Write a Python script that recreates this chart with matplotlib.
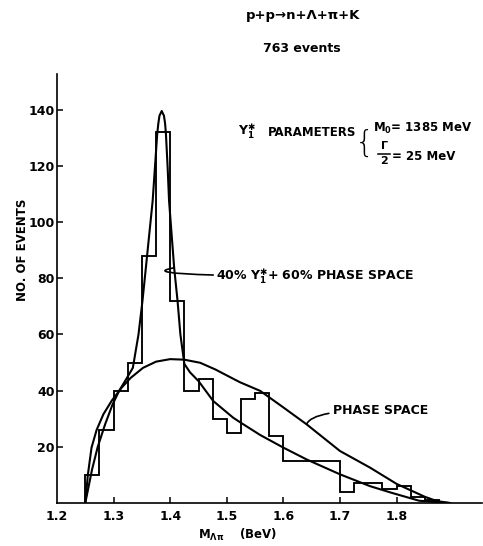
import matplotlib
matplotlib.use("Agg")
import matplotlib.pyplot as plt
from matplotlib.lines import Line2D

# ---------------------------------------------------------------------------
# Data
# ---------------------------------------------------------------------------

# histogram: M(Lambda pi) in BeV, bin width 0.025
bin_edges = [1.250, 1.275, 1.300, 1.325, 1.350, 1.375, 1.400, 1.425, 1.450,
             1.475, 1.500, 1.525, 1.550, 1.575, 1.600, 1.625, 1.650, 1.675,
             1.700, 1.725, 1.750, 1.775, 1.800, 1.825, 1.850, 1.875]
counts = [10, 26, 40, 50, 88, 132, 72, 40, 44, 30, 25, 37, 39, 24,
          15, 15, 15, 15, 4, 7, 7, 5, 6, 2, 1]

# 40% Y1* + 60% phase space curve
res_mass = [1.250, 1.262, 1.272, 1.285, 1.298, 1.310, 1.325, 1.334, 1.344,
            1.351, 1.357, 1.363, 1.369, 1.373, 1.377, 1.379, 1.381, 1.385,
            1.389, 1.391, 1.3925, 1.3955, 1.398, 1.4025, 1.407, 1.413, 1.418,
            1.425, 1.435, 1.450, 1.476, 1.511, 1.523, 1.559, 1.600, 1.641,
            1.700, 1.753, 1.790, 1.840, 1.894]
res_events = [0, 12, 20, 28, 35, 40, 45, 48.1, 60, 71.9, 83.7, 95.6, 107.5,
              119.3, 131.2, 135, 137.8, 139.5, 137.8, 135, 131.2, 119.3,
              107.5, 95.6, 83.7, 71.9, 60, 49.5, 46.5, 43.4, 36.3, 30.4, 28.8,
              24.2, 19.7, 15.5, 10.2, 6.0, 3.7, 0.8, 0]

# pure phase space curve
ps_mass = [1.250, 1.2545, 1.261, 1.270, 1.282, 1.297, 1.314, 1.330, 1.352,
           1.375, 1.400, 1.425, 1.453, 1.480, 1.500, 1.523, 1.559, 1.600,
           1.641, 1.700, 1.753, 1.800, 1.850, 1.871, 1.894]
ps_events = [0, 10, 19.7, 26, 31.6, 36.5, 41, 44.5, 48.1, 50.3, 51.2, 51,
             49.9, 47.5, 45.4, 43, 39.9, 34, 28, 18.5, 12.6, 6.8, 2.2, 0.7, 0]

y_ticks = [20, 40, 60, 80, 100, 120, 140]
x_ticks = [1.2, 1.3, 1.4, 1.5, 1.6, 1.7, 1.8]
x_ticklabels = ["1.2", "1.3", "1.4", "1.5", "1.6", "1.7", "1.8"]

# ---------------------------------------------------------------------------
# Figure
# ---------------------------------------------------------------------------

W, H = 483, 546
plt.rcParams["font.family"] = ["DejaVu Sans"]
plt.rcParams["mathtext.fontset"] = "dejavusans"

fig = plt.figure(figsize=(W / 100, H / 100), dpi=100)
ax = fig.add_axes([57 / W, 1 - 503 / H, (482 - 57) / W, (503 - 74) / H])


def fx(px):
    return px / W


def fy(py):
    return 1 - py / H


LW = 1.5
ax.stairs(counts, bin_edges, color="black", lw=LW * 0.9)
ax.plot(res_mass, res_events, color="black", lw=LW, solid_joinstyle="round")
ax.plot(ps_mass, ps_events, color="black", lw=LW, solid_joinstyle="round")

ax.set_xlim(1.2, 1.2 + (482 - 57) / 566)
ax.set_ylim(0, (503 - 74) / 2.81)

for side in ("top", "right"):
    ax.spines[side].set_visible(False)
for side in ("left", "bottom"):
    ax.spines[side].set_linewidth(1.2)

ax.set_xticks(x_ticks)
ax.set_xticklabels(x_ticklabels)
ax.set_yticks(y_ticks)
ax.tick_params(direction="in", length=4, width=1.1, labelsize=9)
ax.tick_params(axis="x", pad=5)
ax.tick_params(axis="y", pad=1.5)
ax.xaxis.get_major_ticks()[0].tick1line.set_visible(False)
for lab in ax.get_xticklabels() + ax.get_yticklabels():
    lab.set_fontweight("bold")

TXT = dict(fontsize=9, fontweight="bold")
PAR = dict(fontsize=8.5, fontweight="bold")
YSTAR = r"$\mathbf{Y}_{\mathbf{1}}^{✱}$"

# axis labels
fig.text(fx(23), fy(250), "NO. OF EVENTS", rotation=90, ha="center",
         va="center", fontsize=8.5, fontweight="bold")
fig.text(fx(198), fy(535), r"$\mathbf{M_{\Lambda\pi}}$    (BeV)", ha="left",
         va="center", fontsize=8.5, fontweight="bold")

# header
fig.text(fx(303), fy(16), "p+p→n+Λ+π+K", ha="center", va="center",
         fontsize=9.5, fontweight="bold")
fig.text(fx(302), fy(49), "763 events", ha="center", va="center",
         fontsize=9, fontweight="bold")

# Y1* parameters
fig.text(fx(238), fy(131), YSTAR, ha="left", va="center", **TXT)
fig.text(fx(268), fy(133), "PARAMETERS", ha="left", va="center", **PAR)
fig.text(fx(355), fy(143), "{", ha="left", va="center", fontsize=22,
         fontweight="light")
fig.text(fx(373), fy(128), r"$\mathbf{M_0}$= 1385 MeV", ha="left",
         va="center", **PAR)
fig.text(fx(384), fy(146), "Γ", ha="center", va="center", fontsize=8,
         fontweight="bold")
fig.add_artist(Line2D([fx(378), fx(390)], [fy(153.5), fy(153.5)],
                      color="black", lw=1.1))
fig.text(fx(384), fy(161), "2", ha="center", va="center", fontsize=8,
         fontweight="bold")
fig.text(fx(392), fy(156), "= 25 MeV", ha="left", va="center", **PAR)

# curve labels with leader lines
ax.annotate("40% " + YSTAR + "+ 60% PHASE SPACE",
            xy=(1.407, 83.7), xycoords="data",
            xytext=(fx(216), fy(276)), textcoords="figure fraction",
            ha="left", va="center", **TXT,
            arrowprops=dict(arrowstyle="-", color="black", lw=1.2,
                            shrinkA=0, shrinkB=0,
                            connectionstyle="angle3,angleA=0,angleB=10"))
ax.annotate("PHASE SPACE",
            xy=(1.641, 28), xycoords="data",
            xytext=(fx(333), fy(410)), textcoords="figure fraction",
            ha="left", va="center", **TXT,
            arrowprops=dict(arrowstyle="-", color="black", lw=1.2,
                            shrinkA=1, shrinkB=0,
                            connectionstyle="angle3,angleA=0,angleB=70"))

fig.savefig("out.png", dpi=100)
